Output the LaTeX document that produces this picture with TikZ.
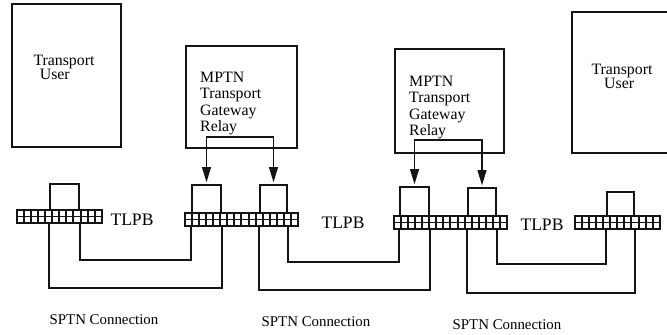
\documentclass[tikz,border=0pt]{standalone}
\usepackage{fontspec}
\setmainfont{Liberation Serif}
\usepackage{tikz}
\usetikzlibrary{arrows.meta, positioning, fit}
\definecolor{ink}{HTML}{141414}

\begin{document}
\begin{tikzpicture}[x=0.03cm, y=-0.03cm,
  box/.style={draw=ink, line width=1.5pt, inner sep=0pt},
  tsap/.style={draw=ink, line width=1.5pt, inner sep=0pt},
  wire/.style={ink, line width=1.5pt},
  relay/.style={ink, line width=1.5pt, {Triangle[length=13pt,width=7.5pt]}-{Triangle[length=13pt,width=7.5pt]}, shorten <=1.5pt, shorten >=1.5pt},
  usertext/.style={align=left, inner sep=0pt, font=\fontsize{13.5}{12}\selectfont},
  gwtext/.style={align=left, inner sep=0pt, anchor=north west, font=\fontsize{13.5}{14}\selectfont},
  tlpb/.style={inner sep=0pt, font=\fontsize{15}{18}\selectfont},
  sptn/.style={inner sep=0pt, font=\fontsize{12.7}{15}\selectfont}]
  \useasboundingbox (0,0) rectangle (667,335);
  \clip (0,0) rectangle (667,335);

  % Transport users at both ends
  \node[box, fit={(12,4) (121,147)}] (userL) {};
  \node[box, fit={(572,12) (700,153)}] (userR) {};
  \node[usertext] (userLtxt) at (64,67) {Transport\\\hspace*{0.4em}User};
  \node[usertext] (userRtxt) at (622,76) {Transport\\\hspace*{0.8em}User};

  % Gateway relays
  \node[box, fit={(186,46) (297,148)}] (gw1) {};
  \node[box, fit={(395,49) (504,153)}] (gw2) {};
  \node[gwtext] (gw1txt) at (200,72) {MPTN\\Transport\\Gateway\\Relay};
  \node[gwtext] (gw2txt) at (409,76) {MPTN\\Transport\\Gateway\\Relay};

  % Transport endpoints (boxes sitting on the bars)
  \node[tsap, fit={(50,184) (79,216)}] (tA) {};
  \node[tsap, fit={(192,185) (221,219)}] (tB) {};
  \node[tsap, fit={(260,185) (287,220)}] (tC) {};
  \node[tsap, fit={(400,187) (429,222)}] (tD) {};
  \node[tsap, fit={(468,188) (496,222)}] (tE) {};
  \node[tsap, fit={(607,192) (634,222)}] (tF) {};

  % Relay arrows
  \coordinate (r1) at (242,137);
  \coordinate (r2) at (449,140);
  \draw[relay] (tB.north) |- (r1) -| (tC.north);
  \draw[relay] (tD.north) |- (r2) -| (tE.north);

  % SPTN connections: inner and outer wire of each
  \draw[wire] (tA.south east) -- ++(0,43) -| (tB.south west);
  \draw[wire] (tA.south west) -- ++(0,71) -| (tB.south east);
  \draw[wire] (tC.south east) -- ++(0,41) -| (tD.south west);
  \draw[wire] (tC.south west) -- ++(0,69) -| (tD.south east);
  \draw[wire] (tE.south east) -- ++(0,41) -| (tF.south west);
  \draw[wire] (tE.south west) -- ++(0,70) -| (tF.south east);

  % Bars: black strip with two rows of white cells
  \foreach \x/\y/\k in {16/209/12, 184/212/16, 393/215/16, 574/215/12}{
    \fill[ink] (\x,\y) rectangle ++(\k*7.1+1.6, 15);
    \foreach \i in {1,...,\k}{
      \fill[white] (\x+1.6+\i*7.1-7.1, \y+1.6) rectangle ++(5.1, 5.3);
      \fill[white] (\x+1.6+\i*7.1-7.1, \y+8.1) rectangle ++(5.1, 5.3);
    }
  }

  \node[tlpb] (tlpb1) at (132,220) {TLPB};
  \node[tlpb] (tlpb2) at (343,223) {TLPB};
  \node[tlpb] (tlpb3) at (542,225) {TLPB};

  \node[sptn] (sptn1) at (104,320) {SPTN Connection};
  \node[sptn] (sptn2) at (316,322) {SPTN Connection};
  \node[sptn] (sptn3) at (507,325) {SPTN Connection};
\end{tikzpicture}
\end{document}
